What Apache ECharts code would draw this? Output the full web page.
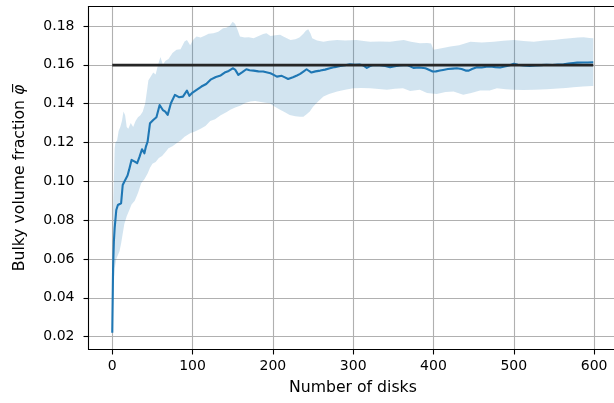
<!DOCTYPE html>
<html>
<head>
<meta charset="utf-8">
<script src="https://cdn.jsdelivr.net/npm/echarts@6/dist/echarts.min.js"></script>
<style>
html,body{margin:0;padding:0;background:#fff;overflow:hidden;}
#chart{width:620px;height:403px;}
</style>
</head>
<body>
<div id="chart"></div>
<script>
// ---- data ----
const xTicks = [0, 100, 200, 300, 400, 500, 600];
const yTicks = [0.02, 0.04, 0.06, 0.08, 0.10, 0.12, 0.14, 0.16, 0.18];

const meanX = [0,1,2,3,5,7,9,11,13,15,17,19,21,24,26,28,31,34,37,40,42,44,47,51,55,59,63,66,69,73,78,83,88,93,96,100,105,111,117,123,129,135,140,145,150,153,157,162,167,171,176,182,188,193,197,201,205,211,215,219,225,230,234,238,242,245,248,253,259,265,271,277,284,290,296,302,308,313,317,321,325,333,340,346,352,358,367,371,375,382,390,395,399,403,408,412,418,424,429,435,440,444,448,454,460,466,471,477,483,490,495,500,505,512,520,527,534,541,548,555,562,568,574,579,586,592,599];
const meanY = [0.0220,0.0550,0.0690,0.0760,0.0852,0.0878,0.0870,0.0887,0.0981,0.0998,0.1005,0.1030,0.1060,0.1110,0.1105,0.1101,0.1093,0.1127,0.1165,0.1144,0.1180,0.1204,0.1299,0.1316,0.1330,0.1393,0.1367,0.1359,0.1342,0.1402,0.1445,0.1433,0.1436,0.1467,0.1440,0.1457,0.1471,0.1488,0.1501,0.1525,0.1537,0.1545,0.1560,0.1568,0.1582,0.1575,0.1548,0.1562,0.1577,0.1572,0.1570,0.1566,0.1565,0.1560,0.1556,0.1548,0.1539,0.1543,0.1535,0.1527,0.1536,0.1545,0.1553,0.1565,0.1577,0.1568,0.1560,0.1566,0.1570,0.1575,0.1582,0.1588,0.1594,0.1598,0.1603,0.1600,0.1601,0.1596,0.1584,0.1593,0.1599,0.1598,0.1594,0.1587,0.1592,0.1596,0.1599,0.1592,0.1584,0.1586,0.1582,0.1573,0.1565,0.1566,0.1570,0.1573,0.1578,0.1580,0.1582,0.1578,0.1570,0.1570,0.1578,0.1587,0.1586,0.1590,0.1591,0.1588,0.1586,0.1592,0.1598,0.1605,0.1600,0.1597,0.1594,0.1597,0.1598,0.1600,0.1599,0.1601,0.1603,0.1606,0.1609,0.1611,0.1612,0.1612,0.1613];

const upperX = [0,1,2,3,4,6,8,10,12,14,16,18,20,23,26,29,32,35,38,41,43,45,48,51,54,57,60,63,66,70,75,80,85,90,93,97,101,105,110,115,120,126,132,138,142,146,150,153,156,159,165,170,176,183,188,192,197,203,209,213,218,222,228,233,238,241,244,247,249,255,263,270,280,290,304,313,321,333,346,355,363,372,383,392,397,400,410,421,432,446,460,475,487,500,512,525,538,550,560,570,580,587,594,599];
const upperY = [0.0220,0.0850,0.1000,0.1170,0.1200,0.1210,0.1260,0.1280,0.1310,0.1360,0.1340,0.1280,0.1270,0.1300,0.1280,0.1310,0.1330,0.1340,0.1360,0.1400,0.1460,0.1520,0.1540,0.1560,0.1550,0.1600,0.1640,0.1600,0.1620,0.1630,0.1660,0.1677,0.1680,0.1720,0.1728,0.1700,0.1730,0.1745,0.1740,0.1750,0.1760,0.1762,0.1770,0.1788,0.1790,0.1800,0.1822,0.1810,0.1780,0.1745,0.1740,0.1742,0.1737,0.1750,0.1758,0.1762,0.1748,0.1752,0.1754,0.1745,0.1735,0.1728,0.1732,0.1740,0.1760,0.1775,0.1783,0.1760,0.1737,0.1725,0.1719,0.1724,0.1728,0.1725,0.1728,0.1722,0.1719,0.1720,0.1719,0.1724,0.1728,0.1718,0.1711,0.1712,0.1710,0.1677,0.1685,0.1694,0.1700,0.1719,0.1715,0.1719,0.1724,0.1728,0.1722,0.1719,0.1725,0.1728,0.1733,0.1737,0.1740,0.1742,0.1738,0.1737];

const lowerX = [0,1,2,3,5,7,9,11,13,15,18,21,24,28,32,36,40,44,47,50,54,58,62,66,70,75,80,85,90,97,103,110,116,122,128,135,142,147,153,160,166,172,178,185,191,196,202,209,215,221,228,234,238,242,246,250,256,263,270,280,290,300,310,321,332,342,352,362,371,383,392,404,415,425,437,447,458,470,479,490,500,512,525,541,555,565,574,586,597,599];
const lowerY = [0.0220,0.0350,0.0480,0.0550,0.0600,0.0620,0.0640,0.0680,0.0730,0.0780,0.0820,0.0850,0.0880,0.0900,0.0940,0.0990,0.1010,0.1040,0.1070,0.1090,0.1100,0.1120,0.1130,0.1150,0.1170,0.1180,0.1196,0.1210,0.1230,0.1248,0.1256,0.1270,0.1285,0.1310,0.1320,0.1340,0.1355,0.1368,0.1380,0.1390,0.1405,0.1411,0.1413,0.1408,0.1405,0.1402,0.1385,0.1368,0.1355,0.1342,0.1335,0.1333,0.1333,0.1345,0.1360,0.1384,0.1410,0.1436,0.1450,0.1462,0.1472,0.1479,0.1480,0.1479,0.1475,0.1471,0.1476,0.1479,0.1465,0.1471,0.1454,0.1450,0.1460,0.1462,0.1445,0.1455,0.1467,0.1467,0.1479,0.1474,0.1471,0.1470,0.1472,0.1474,0.1478,0.1480,0.1484,0.1488,0.1491,0.1491];

const refX = [0, 599];
const refY = [0.1598, 0.1598];

// ---- chart ----
const FONT = 'DejaVu Sans';
const chart = echarts.init(document.getElementById('chart'), null, {renderer: 'canvas'});

const pair = (xs, ys) => xs.map((x, i) => [x, ys[i]]);

const option = {
  animation: false,
  backgroundColor: '#ffffff',
  grid: {left: 88.5, right: 2.7, top: 6.5, bottom: 53.5, containLabel: false},
  xAxis: [{
    type: 'value',
    min: -29.6, max: 628.9,
    position: 'bottom',
    name: 'Number of disks',
    nameLocation: 'middle',
    nameGap: 30.5,
    nameTextStyle: {fontFamily: FONT, fontSize: 15.7, color: '#000'},
    axisLine: {show: true, onZero: false, lineStyle: {color: '#000', width: 1.1}},
    axisTick: {show: true, inside: false, length: 5, customValues: xTicks, lineStyle: {color: '#000', width: 1.1}},
    axisLabel: {show: true, margin: 10, customValues: xTicks, fontFamily: FONT, fontSize: 14, color: '#000',
      formatter: v => String(v)},
    splitLine: {show: true, lineStyle: {color: '#b0b0b0', width: 1.1}}
  }, {
    type: 'value',
    min: -29.6, max: 628.9,
    position: 'top',
    axisLine: {show: true, onZero: false, lineStyle: {color: '#000', width: 1.1}},
    axisTick: {show: false}, axisLabel: {show: false}, splitLine: {show: false}
  }],
  yAxis: {
    type: 'value',
    min: 0.0134, max: 0.19,
    name: 'Bulky volume fraction {p|φ\u0305}',
    nameLocation: 'middle',
    nameGap: 61,
    nameRotate: 90,
    nameTextStyle: {fontFamily: FONT, fontSize: 15.7, color: '#000',
      rich: {p: {fontFamily: FONT, fontSize: 15.7, fontStyle: 'italic', color: '#000'}}},
    axisLine: {show: true, onZero: false, lineStyle: {color: '#000', width: 1.1}},
    axisTick: {show: true, inside: false, length: 5, customValues: yTicks, lineStyle: {color: '#000', width: 1.1}},
    axisLabel: {show: true, margin: 14, customValues: yTicks, fontFamily: FONT, fontSize: 14, color: '#000',
      formatter: v => Number(v).toFixed(2)},
    splitLine: {show: true, lineStyle: {color: '#b0b0b0', width: 1.1}}
  },
  series: [{
    type: 'custom',
    name: 'band',
    data: [[0, 0.1]],
    encode: {x: 0, y: 1},
    silent: true,
    z: 1,
    renderItem: function (params, api) {
      const pts = [];
      for (let i = 0; i < upperX.length; i++) pts.push(api.coord([upperX[i], upperY[i]]));
      for (let i = lowerX.length - 1; i >= 0; i--) pts.push(api.coord([lowerX[i], lowerY[i]]));
      return {type: 'polygon', shape: {points: pts}, style: {fill: 'rgba(31,119,180,0.2)', stroke: null}};
    }
  }, {
    type: 'line',
    name: 'mean',
    data: pair(meanX, meanY),
    showSymbol: false,
    symbol: 'none',
    z: 3,
    lineStyle: {color: '#1f77b4', width: 2.1, join: 'round'}
  }, {
    type: 'line',
    name: 'ref',
    data: pair(refX, refY),
    showSymbol: false,
    symbol: 'none',
    z: 4,
    lineStyle: {color: '#262626', width: 2.7}
  }]
};
chart.setOption(option);
</script>
</body>
</html>
